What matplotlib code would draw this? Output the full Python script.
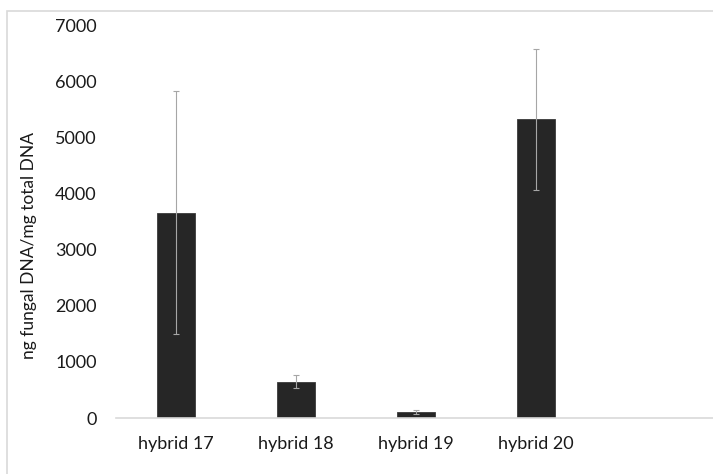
import matplotlib.pyplot as plt
from matplotlib.patches import Rectangle

plt.rcParams["font.family"] = ["Lato", "DejaVu Sans"]

categories = ["hybrid 17", "hybrid 18", "hybrid 19", "hybrid 20", ""]
values = [3660, 650, 110, 5320, 0]
errors = [2170, 110, 40, 1250, 0]

fig = plt.figure(figsize=(7.13, 4.74), dpi=100)
ax = fig.add_axes([0.163, 0.118, 0.837, 0.829])

# light frame around the chart area
fig.patches.append(Rectangle((7 / 713, -0.1), 1.1, 1 - 11 / 474 + 0.1,
                             transform=fig.transFigure, fill=False,
                             edgecolor="#d9d9d9", linewidth=1.2))

x = range(len(categories))
ax.bar(x[:4], values[:4], width=0.32, color="#262626", edgecolor="#3a3a3a",
       linewidth=0.6, zorder=2)
ax.errorbar(x[:4], values[:4], yerr=errors[:4], fmt="none", ecolor="#a6a6a6",
            elinewidth=0.8, capsize=2, capthick=0.8, zorder=3)

ax.set_xlim(-0.5, 4.475)
ax.set_ylim(0, 7000)
ax.set_yticks(range(0, 7001, 1000))
ax.set_xticks(list(x))
ax.set_xticklabels(categories)
ax.tick_params(axis="both", length=0, labelsize=13, colors="#1a1a1a")
ax.tick_params(axis="x", pad=13)
ax.tick_params(axis="y", pad=14)

for side in ["top", "right", "left"]:
    ax.spines[side].set_visible(False)
ax.spines["bottom"].set_color("#d9d9d9")
ax.spines["bottom"].set_linewidth(1.2)

ax.set_ylabel("ng fungal DNA/mg total DNA", fontsize=12.5, color="#1a1a1a")
ax.yaxis.set_label_coords(-0.132, 0.44)

fig.savefig("out.png", dpi=100)
